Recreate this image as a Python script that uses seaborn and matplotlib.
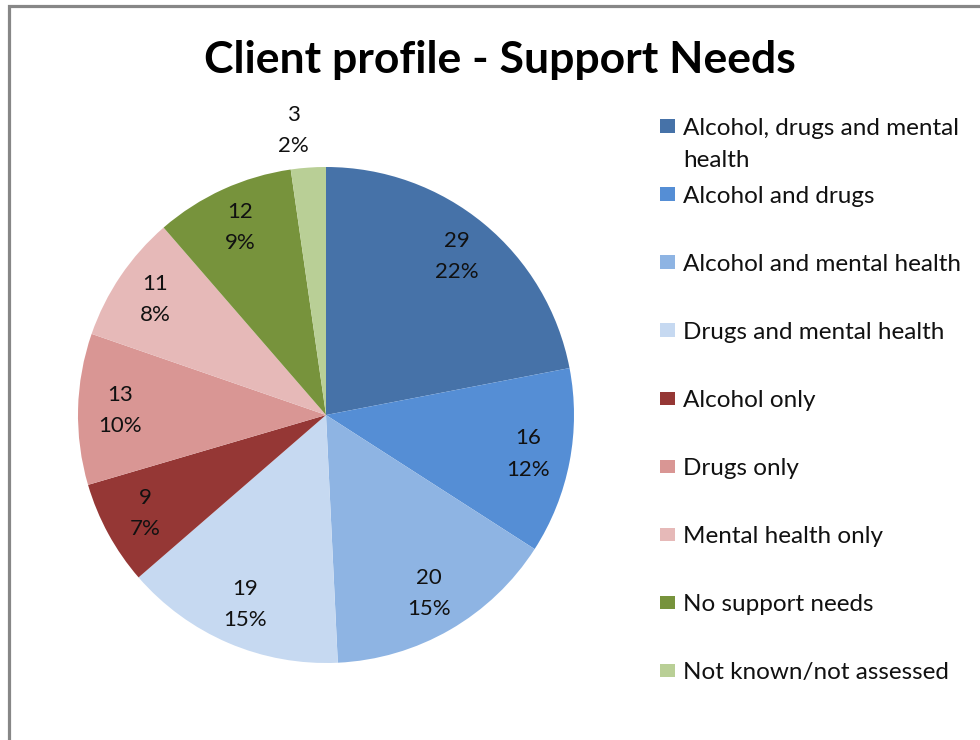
import numpy as np
import matplotlib
matplotlib.use("Agg")
import matplotlib.pyplot as plt
from matplotlib.patches import Rectangle
import seaborn as sns

# Support needs of clients (counts) and the percentage shown on each slice
categories = [
    "Alcohol, drugs and mental health",
    "Alcohol and drugs",
    "Alcohol and mental health",
    "Drugs and mental health",
    "Alcohol only",
    "Drugs only",
    "Mental health only",
    "No support needs",
    "Not known/not assessed",
]
legend_labels = [
    "Alcohol, drugs and mental\nhealth",
    "Alcohol and drugs",
    "Alcohol and mental health",
    "Drugs and mental health",
    "Alcohol only",
    "Drugs only",
    "Mental health only",
    "No support needs",
    "Not known/not assessed",
]
counts = [29, 16, 20, 19, 9, 13, 11, 12, 3]
percents = [22, 12, 15, 15, 7, 10, 8, 9, 2]
colors = ["#4672A8", "#558ED5", "#8EB4E3", "#C6D9F1", "#953735",
          "#D99694", "#E6B9B8", "#77933C", "#B9CF96"]

sns.set_theme(style="white")
plt.rcParams["font.family"] = ["Lato", "DejaVu Sans"]
palette = sns.color_palette(colors)

W, H = 980, 740
fig = plt.figure(figsize=(W / 100, H / 100), dpi=100)
fig.patch.set_facecolor("white")

# outer chart frame (runs off the right and bottom edges)
fig.patches.append(Rectangle((8.5 / W, -0.05), 1.1, (H - 6) / H + 0.05,
                             transform=fig.transFigure, fill=False,
                             edgecolor="#878787", linewidth=2.3, zorder=0))

# pie axes: centre (326, 415) px, radius 248 px
cx, cy, r = 326, 415, 248
ax = fig.add_axes([(cx - r) / W, (H - cy - r) / H, 2 * r / W, 2 * r / H])
labels = [f"{c}\n{p}%" for c, p in zip(counts, percents)]
wedges, texts = ax.pie(counts, colors=palette, startangle=90, counterclock=False,
                       labels=labels, labeldistance=0.83, radius=1,
                       wedgeprops=dict(linewidth=0))
for t in texts:
    t.set_ha("center")
    t.set_va("center")
    t.set_fontsize(16)
    t.set_color("#111111")
    t.set_linespacing(1.7)
# the thin last slice gets its label outside the pie
w = wedges[-1]
ang = np.deg2rad((w.theta1 + w.theta2) / 2)
texts[-1].set_position((1.15 * np.cos(ang) - 0.05, 1.15 * np.sin(ang)))
ax.set_xlim(-1, 1)
ax.set_ylim(-1, 1)
ax.set_aspect("equal")
ax.axis("off")

fig.text(500 / W, 1 - 60 / H, "Client profile - Support Needs",
         ha="center", va="center", fontsize=32, fontweight="bold", color="black")

# legend: square swatches with labels (first text line level with the swatch)
y0, dy, line_px = 126, 68, 32
for i, (lab, col) in enumerate(zip(legend_labels, palette)):
    yc = y0 + i * dy
    fig.patches.append(Rectangle((660 / W, 1 - (yc + 6.5) / H), 15 / W, 13 / H,
                                 transform=fig.transFigure, facecolor=col,
                                 edgecolor="none"))
    n_lines = lab.count("\n") + 1
    ty = yc + 2.5 + (n_lines - 1) * line_px / 2
    fig.text(683 / W, 1 - ty / H, lab, ha="left", va="center",
             fontsize=17.5, color="#111111", linespacing=1.66)

fig.savefig("out.png", dpi=100, facecolor="white")
